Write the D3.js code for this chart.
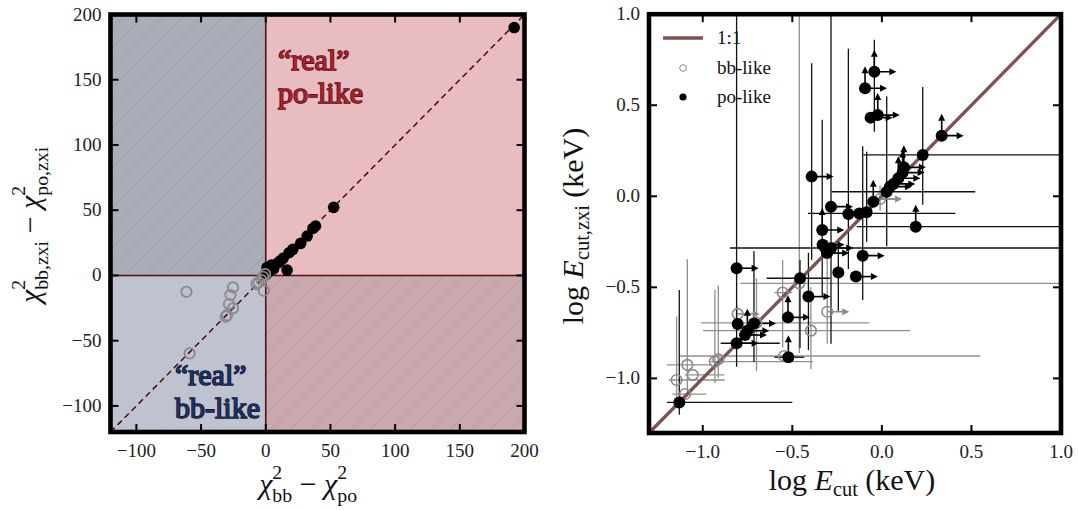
<!DOCTYPE html>
<html><head><meta charset="utf-8">
<script src="https://cdn.jsdelivr.net/npm/d3@7"></script>
<style>body{margin:0;background:#fff} svg{display:block}</style>
</head><body>
<svg id="c" width="1078" height="510"></svg>
<script>
// ---------- LEFT PANEL DATA: chi2 differences ----------
const poDiffX = [192, 52.5, 38.5, 36.5, 32, 27, 21, 18, 13.4, 9.5, 4.4, 3, 1, 16.5, 6, 2, 0.5, 11];
const poDiffY = [190, 52.2, 37.9, 36, 30.2, 24.6, 20, 17.4, 13.1, 9.7, 8, 6, 6, 4.1, 5, 3, 1, 11];
const bbDiffX = [-61.3, -25.3, -27.3, -28.4, -25.3, -29.9, -30.9, -58.8, -7.2, -1.5, -2, -0.5, -3.3, -5.6];
const bbDiffY = [-12.5, -9.1, -15, -21.9, -25.2, -30.4, -31.6, -59.7, -6.6, -11.7, -1, 1, -3.5, -5.3];
const leftTicks = [-100, -50, 0, 50, 100, 150, 200];
const leftTickLabels = ["\u2212100", "\u221250", "0", "50", "100", "150", "200"];

// ---------- RIGHT PANEL DATA: log Ecut ----------
// [x, y, xLow, xHigh, yLow, yHigh, xLowerLimit, yLowerLimit]
const poCut = [
 [-0.042, 0.684, null, null, 0.355, 0.86, 1, 1],
 [-0.094, 0.593, null, null, null, null, 1, 1],
 [-0.063, 0.432, null, null, null, null, 1, 0],
 [-0.023, 0.446, null, null, null, null, 1, 1],
 [0.334, 0.333, null, null, null, null, 1, 1],
 [0.228, 0.227, -0.103, 1.05, -0.047, 0.60, 0, 0],
 [-0.392, 0.108, null, null, -0.35, 0.73, 1, 0],
 [0.123, 0.159, null, null, null, null, 1, 1],
 [0.116, 0.130, null, null, null, null, 1, 1],
 [0.092, 0.099, null, null, null, null, 1, 1],
 [0.064, 0.068, null, null, null, null, 1, 0],
 [0.045, 0.053, null, null, null, null, 1, 0],
 [0.027, 0.025, -0.281, 0.521, -0.275, 0.55, 0, 0],
 [-0.048, -0.030, null, null, null, null, 0, 1],
 [-0.284, -0.057, null, null, -0.81, 1.05, 1, 0],
 [-0.187, -0.097, null, null, -0.40, 0.81, 0, 0],
 [-0.126, -0.094, -0.413, 0.41, null, null, 0, 0],
 [-0.085, -0.088, null, null, -0.25, 0.245, 0, 0],
 [0.189, -0.167, -0.14, 1.05, null, null, 0, 1],
 [-0.333, -0.185, null, null, -0.55, 0.42, 1, 1],
 [-0.331, -0.266, null, null, null, null, 1, 0],
 [-0.316, -0.284, -0.848, 1.05, null, null, 0, 0],
 [-0.306, -0.312, null, null, null, null, 1, 0],
 [-0.283, -0.284, null, null, null, null, 1, 0],
 [-0.107, -0.326, null, null, -0.57, 0.275, 1, 0],
 [-0.243, -0.418, null, null, -0.634, -0.24, 0, 0],
 [-0.145, -0.441, null, null, null, null, 1, 0],
 [-0.457, -0.450, -0.643, -0.29, -0.833, -0.35, 0, 0],
 [-0.410, -0.551, null, null, -0.845, -0.31, 1, 0],
 [-0.811, -0.395, null, null, -0.70, 1.05, 1, 0],
 [-0.524, -0.665, null, null, null, null, 1, 1],
 [-0.805, -0.701, null, null, null, null, 0, 0],
 [-0.714, -0.698, null, null, -0.91, -0.30, 1, 0],
 [-0.751, -0.738, null, null, null, null, 1, 1],
 [-0.764, -0.762, null, null, null, null, 1, 0],
 [-0.811, -0.807, -0.90, -0.57, -0.936, -0.60, 1, 0],
 [-0.522, -0.884, -0.60, -0.433, null, null, 0, 1],
 [-1.131, -1.132, -1.20, -0.50, -1.20, -0.515, 0, 0]
];
const bbCut = [
 [-0.010, -0.015, -0.05, 0.10, -0.08, 0.06, 1, 0],
 [-0.461, -0.478, -0.79, 1.05, -0.86, 1.05, 0, 0],
 [-0.554, -0.529, -0.60, -0.50, -0.83, -0.35, 0, 0],
 [-0.805, -0.646, null, null, null, null, 1, 0],
 [-0.305, -0.634, null, null, -0.81, -0.24, 1, 0],
 [-0.396, -0.738, -0.998, 0.157, -0.95, -0.50, 0, 0],
 [-0.546, -0.877, -1.13, 0.55, null, null, 0, 0],
 [-0.700, -0.695, -1.01, -0.07, -0.96, -0.45, 0, 0],
 [-0.932, -0.908, -0.955, -0.384, -1.026, -0.515, 0, 0],
 [-0.913, -0.895, null, null, -1.0, -0.49, 0, 0],
 [-1.086, -0.926, -1.20, -0.95, -1.10, -0.346, 0, 0],
 [-1.056, -0.981, -1.10, -0.88, null, null, 0, 0],
 [-1.146, -1.009, -1.19, -0.877, -1.12, -0.66, 0, 0],
 [-1.099, -1.086, -1.17, -0.98, null, null, 0, 0]
];
const rightTicks = [-1.0, -0.5, 0.0, 0.5, 1.0];
const rightTickLabels = ["\u22121.0", "\u22120.5", "0.0", "0.5", "1.0"];
const legendLabels = ["1:1", "bb-like", "po-like"];

// ---------- drawing ----------
const FONT = "'Liberation Serif','DejaVu Serif',serif";
const svg = d3.select("#c");
const defs = svg.append("defs");

const LP = {x0: 110.5, x1: 524.5, y0: 14.5, y1: 432};
const RP = {x0: 649, x1: 1061, y0: 14.2, y1: 433};

const xL = d3.scaleLinear().domain([-120, 200]).range([LP.x0, LP.x1]);
const yL = d3.scaleLinear().domain([-120, 200]).range([LP.y1, LP.y0]);
const xR = d3.scaleLinear().domain([-1.3, 1.0]).range([RP.x0, RP.x1]);
const yR = d3.scaleLinear().domain([-1.3, 1.0]).range([RP.y1, RP.y0]);

// hatch pattern
const HS = 20;
const pat = defs.append("pattern").attr("id", "hatch").attr("patternUnits", "userSpaceOnUse")
  .attr("width", HS).attr("height", HS);
pat.append("path").attr("d", `M-4,4 L4,-4 M0,${HS} L${HS},0 M${HS - 4},${HS + 4} L${HS + 4},${HS - 4}`)
  .attr("stroke", "#8a8a8a").attr("stroke-width", 0.9).attr("stroke-opacity", 0.45);

defs.append("clipPath").attr("id", "clipL").append("rect")
  .attr("x", LP.x0).attr("y", LP.y0).attr("width", LP.x1 - LP.x0).attr("height", LP.y1 - LP.y0);
defs.append("clipPath").attr("id", "clipR").append("rect")
  .attr("x", RP.x0).attr("y", RP.y0).attr("width", RP.x1 - RP.x0).attr("height", RP.y1 - RP.y0);

// ----- LEFT -----
const gL = svg.append("g").attr("clip-path", "url(#clipL)");
const quads = [
  {x0: -120, x1: 0, y0: 0, y1: 200, c: "#aaaeb8", h: true},
  {x0: -120, x1: 0, y0: -120, y1: 0, c: "#bfc3d0", h: false},
  {x0: 0, x1: 200, y0: 0, y1: 200, c: "#e8bcc0", h: false},
  {x0: 0, x1: 200, y0: -120, y1: 0, c: "#c9a9ae", h: true}
];
quads.forEach(q => {
  gL.append("rect").attr("x", xL(q.x0)).attr("y", yL(q.y1))
    .attr("width", xL(q.x1) - xL(q.x0)).attr("height", yL(q.y0) - yL(q.y1)).attr("fill", q.c);
  if (q.h) gL.append("rect").attr("x", xL(q.x0)).attr("y", yL(q.y1))
    .attr("width", xL(q.x1) - xL(q.x0)).attr("height", yL(q.y0) - yL(q.y1)).attr("fill", "url(#hatch)");
});
gL.append("line").attr("x1", xL(0)).attr("x2", xL(0)).attr("y1", yL(-120)).attr("y2", yL(200))
  .attr("stroke", "#5a0c10").attr("stroke-width", 1.6);
gL.append("line").attr("x1", xL(-120)).attr("x2", xL(200)).attr("y1", yL(0)).attr("y2", yL(0))
  .attr("stroke", "#5a0c10").attr("stroke-width", 1.6);
gL.append("line").attr("x1", xL(-120)).attr("x2", xL(200)).attr("y1", yL(-120)).attr("y2", yL(200))
  .attr("stroke", "#4a0a0e").attr("stroke-width", 1.5).attr("stroke-dasharray", "6,4");

gL.selectAll(".po").data(poDiffX).enter().append("circle")
  .attr("cx", d => xL(d)).attr("cy", (d, i) => yL(poDiffY[i])).attr("r", 5.8).attr("fill", "#000");
gL.selectAll(".bb").data(bbDiffX).enter().append("circle")
  .attr("cx", d => xL(d)).attr("cy", (d, i) => yL(bbDiffY[i])).attr("r", 5.2)
  .attr("fill", "none").attr("stroke", "#8a8a8a").attr("stroke-width", 1.8);

function regionText(x, y, lines, fill, stroke) {
  lines.forEach((s, i) => svg.append("text").attr("font-family", FONT).attr("font-size", 30)
    .attr("fill", fill).attr("stroke", stroke).attr("stroke-width", 1.5).attr("paint-order", "stroke")
    .attr("x", x).attr("y", y + i * 33).text(s));
}
regionText(278, 70, ["\u201Creal\u201D", "po-like"], "#b31f2d", "#4a0a0e");
regionText(175, 385, ["\u201Creal\u201D", "bb-like"], "#1f3160", "#0d1530");

// ----- RIGHT -----
const gR = svg.append("g").attr("clip-path", "url(#clipR)");
const ARW = 22;
function errbars(data, color) {
  data.forEach(d => {
    const [x, y, xlo, xhi, ylo, yhi] = d;
    if (xlo !== null) gR.append("line").attr("x1", xR(xlo)).attr("x2", xR(xhi)).attr("y1", yR(y)).attr("y2", yR(y))
      .attr("stroke", color).attr("stroke-width", 1.3);
    if (ylo !== null) gR.append("line").attr("x1", xR(x)).attr("x2", xR(x)).attr("y1", yR(ylo)).attr("y2", yR(yhi))
      .attr("stroke", color).attr("stroke-width", 1.3);
  });
}
function arrows(data, color) {
  data.forEach(d => {
    const px = xR(d[0]), py = yR(d[1]);
    if (d[6]) {
      gR.append("line").attr("x1", px).attr("x2", px + ARW - 5).attr("y1", py).attr("y2", py)
        .attr("stroke", color).attr("stroke-width", 1.6);
      gR.append("path").attr("d", `M${px + ARW},${py} L${px + ARW - 7},${py - 3.5} L${px + ARW - 7},${py + 3.5}Z`).attr("fill", color);
    }
    if (d[7]) {
      gR.append("line").attr("x1", px).attr("x2", px).attr("y1", py).attr("y2", py - ARW + 5)
        .attr("stroke", color).attr("stroke-width", 1.6);
      gR.append("path").attr("d", `M${px},${py - ARW} L${px - 3.5},${py - ARW + 7} L${px + 3.5},${py - ARW + 7}Z`).attr("fill", color);
    }
  });
}
errbars(bbCut, "#8f8f8f");
errbars(poCut, "#111");
gR.append("line").attr("x1", xR(-1.3)).attr("y1", yR(-1.3)).attr("x2", xR(1.0)).attr("y2", yR(1.0))
  .attr("stroke", "#7b5450").attr("stroke-width", 3.4);
arrows(bbCut, "#8a8a8a");
arrows(poCut, "#000");
gR.selectAll(".bbc").data(bbCut).enter().append("circle")
  .attr("cx", d => xR(d[0])).attr("cy", d => yR(d[1])).attr("r", 5.3)
  .attr("fill", "none").attr("stroke", "#8a8a8a").attr("stroke-width", 1.6);
gR.selectAll(".poc").data(poCut).enter().append("circle")
  .attr("cx", d => xR(d[0])).attr("cy", d => yR(d[1])).attr("r", 6).attr("fill", "#000");

// legend
svg.append("line").attr("x1", 663).attr("x2", 703).attr("y1", 38).attr("y2", 38)
  .attr("stroke", "#7b5450").attr("stroke-width", 3.4);
svg.append("circle").attr("cx", 683).attr("cy", 68).attr("r", 3.3).attr("fill", "none")
  .attr("stroke", "#8a8a8a").attr("stroke-width", 1);
svg.append("circle").attr("cx", 683).attr("cy", 97).attr("r", 3.6).attr("fill", "#000");
legendLabels.forEach((s, i) => svg.append("text").attr("x", 717).attr("y", 44 + i * 29.5)
  .attr("font-family", FONT).attr("font-size", 19).attr("fill", "#111").text(s));

// ----- frames & ticks -----
function frame(P, xs, ys, ticks, labels) {
  const g = svg.append("g");
  const TL = 8;
  ticks.forEach((t, i) => {
    const X = xs(t), Y = ys(t);
    if (X > P.x0 + 2 && X < P.x1 - 2) {
      g.append("line").attr("x1", X).attr("x2", X).attr("y1", P.y1).attr("y2", P.y1 - TL).attr("stroke", "#000").attr("stroke-width", 2);
      g.append("line").attr("x1", X).attr("x2", X).attr("y1", P.y0).attr("y2", P.y0 + TL).attr("stroke", "#000").attr("stroke-width", 2);
    }
    if (Y > P.y0 + 2 && Y < P.y1 - 2) {
      g.append("line").attr("x1", P.x0).attr("x2", P.x0 + TL).attr("y1", Y).attr("y2", Y).attr("stroke", "#000").attr("stroke-width", 2);
      g.append("line").attr("x1", P.x1).attr("x2", P.x1 - TL).attr("y1", Y).attr("y2", Y).attr("stroke", "#000").attr("stroke-width", 2);
    }
    g.append("text").attr("x", X).attr("y", P.y1 + 25).attr("text-anchor", "middle")
      .attr("font-family", FONT).attr("font-size", 19).attr("fill", "#222").text(labels[i]);
    g.append("text").attr("x", P.x0 - 9).attr("y", Y + 6).attr("text-anchor", "end")
      .attr("font-family", FONT).attr("font-size", 19).attr("fill", "#222").text(labels[i]);
  });
  g.append("rect").attr("x", P.x0).attr("y", P.y0).attr("width", P.x1 - P.x0).attr("height", P.y1 - P.y0)
    .attr("fill", "none").attr("stroke", "#000").attr("stroke-width", 4.6);
}
frame(LP, xL, yL, leftTicks, leftTickLabels);
frame(RP, xR, yR, rightTicks, rightTickLabels);

// ----- axis labels (built left-to-right then centred with their measured width) -----
function centreLabel(t, cx, cy, rot) {
  const w = t.node().getComputedTextLength();
  t.attr("transform", `translate(${cx},${cy}) rotate(${rot}) translate(${-w / 2},0)`);
}
function chiTerm(t, sub, fs) {
  t.append("tspan").attr("font-style", "italic").text("\u03C7");
  t.append("tspan").attr("font-size", fs * 0.66).attr("dy", -fs * 0.50).text("2");
  t.append("tspan").attr("font-size", fs * 0.66).attr("dx", -fs * 0.33).attr("dy", fs * 0.77).text(sub);
}
function chiLabel(cx, cy, rot, subA, subB) {
  const fs = 30;
  const t = svg.append("text").attr("font-family", FONT).attr("font-size", fs).attr("fill", "#111");
  chiTerm(t, subA, fs);
  t.append("tspan").attr("dy", -fs * 0.27).text(" \u2212 ");
  chiTerm(t, subB, fs);
  centreLabel(t, cx, cy, rot);
}
chiLabel(318, 494, 0, "bb", "po");
chiLabel(40, 215, -90, "bb,zxi", "po,zxi");

function ecutLabel(cx, cy, rot, sub) {
  const fs = 30;
  const t = svg.append("text").attr("font-family", FONT).attr("font-size", fs).attr("fill", "#111");
  t.append("tspan").text("log ");
  t.append("tspan").attr("font-style", "italic").text("E");
  t.append("tspan").attr("font-size", fs * 0.68).attr("dy", fs * 0.2).text(sub);
  t.append("tspan").attr("dy", -fs * 0.2).text(" (keV)");
  centreLabel(t, cx, cy, rot);
}
ecutLabel(852, 490, 0, "cut");
ecutLabel(583, 226, -90, "cut,zxi");
</script>
</body></html>
